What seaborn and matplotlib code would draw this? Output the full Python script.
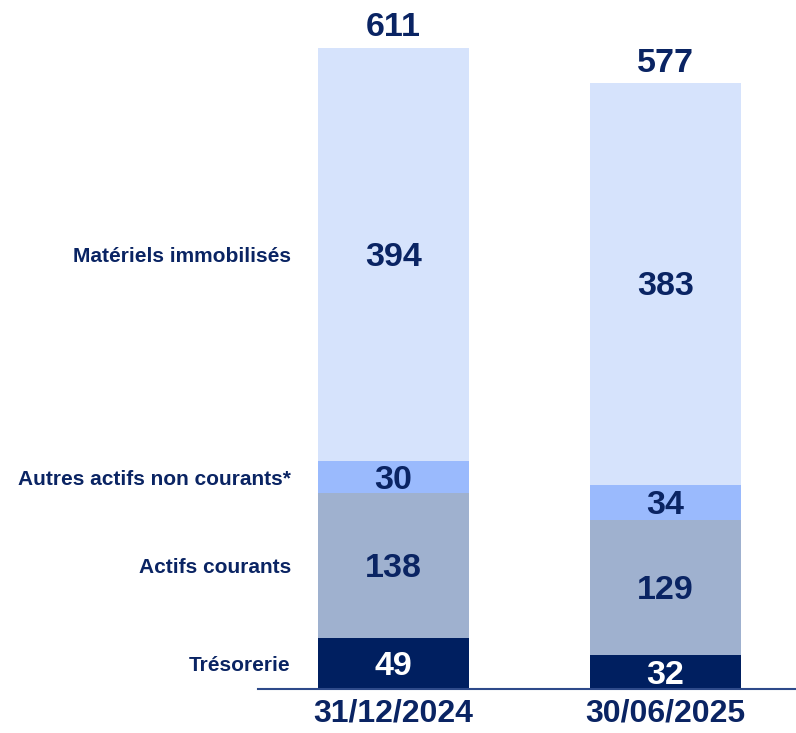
import numpy as np
import pandas as pd
import matplotlib.pyplot as plt
import seaborn as sns

# bilan actif
dates = ["31/12/2024", "30/06/2025"]
segments = ["Trésorerie", "Actifs courants", "Autres actifs non courants*", "Matériels immobilisés"]
tresorerie = [49, 32]
actifs_courants = [138, 129]
autres_actifs = [30, 34]
materiels = [394, 383]
totals = [611, 577]

colors = ["#001F60", "#9FB1CF", "#9ABAFD", "#D6E3FC"]
navy = "#0A2463"

sns.set_style("white")
plt.rcParams["font.family"] = ["Liberation Sans", "DejaVu Sans"]

df = pd.DataFrame({"date": dates, "Trésorerie": tresorerie, "Actifs courants": actifs_courants,
                   "Autres actifs non courants*": autres_actifs, "Matériels immobilisés": materiels})

fig = plt.figure(figsize=(7.96, 7.33), dpi=100)
ax = fig.add_axes([0.324, 0.06, 0.676, 0.94])

bottom = np.zeros(len(dates))
for seg, col in zip(segments, colors):
    sns.barplot(data=df, x="date", y=seg, color=col, width=0.555, bottom=bottom,
                saturation=1, ax=ax, linewidth=0)
    vals = df[seg].values
    for i, v in enumerate(vals):
        txt_col = "white" if seg == "Trésorerie" else navy
        ax.text(i, bottom[i] + v / 2 - 3, str(v), ha="center", va="center",
                fontsize=24.5, fontweight="bold", color=txt_col)
    # category label next to first bar
    ax.text(-0.377, bottom[0] + vals[0] / 2 - 2, seg, ha="right", va="center",
            fontsize=15, fontweight="bold", color=navy)
    bottom = bottom + vals

for i, t in enumerate(totals):
    ax.text(i, t + 5, str(t), ha="center", va="bottom", fontsize=24.5,
            fontweight="bold", color=navy)

ax.set_xlim(-0.498, 1.48)
ax.set_ylim(0, 657)
ax.set_xlabel("")
ax.set_ylabel("")
ax.set_yticks([])
ax.tick_params(axis="x", length=0, pad=7)
for lab in ax.get_xticklabels():
    lab.set_fontsize(23)
    lab.set_fontweight("bold")
    lab.set_color(navy)
for s in ["top", "right", "left"]:
    ax.spines[s].set_visible(False)
ax.spines["bottom"].set_color("#2E4A8A")
ax.spines["bottom"].set_linewidth(1.5)

fig.savefig("out.png", dpi=100)
